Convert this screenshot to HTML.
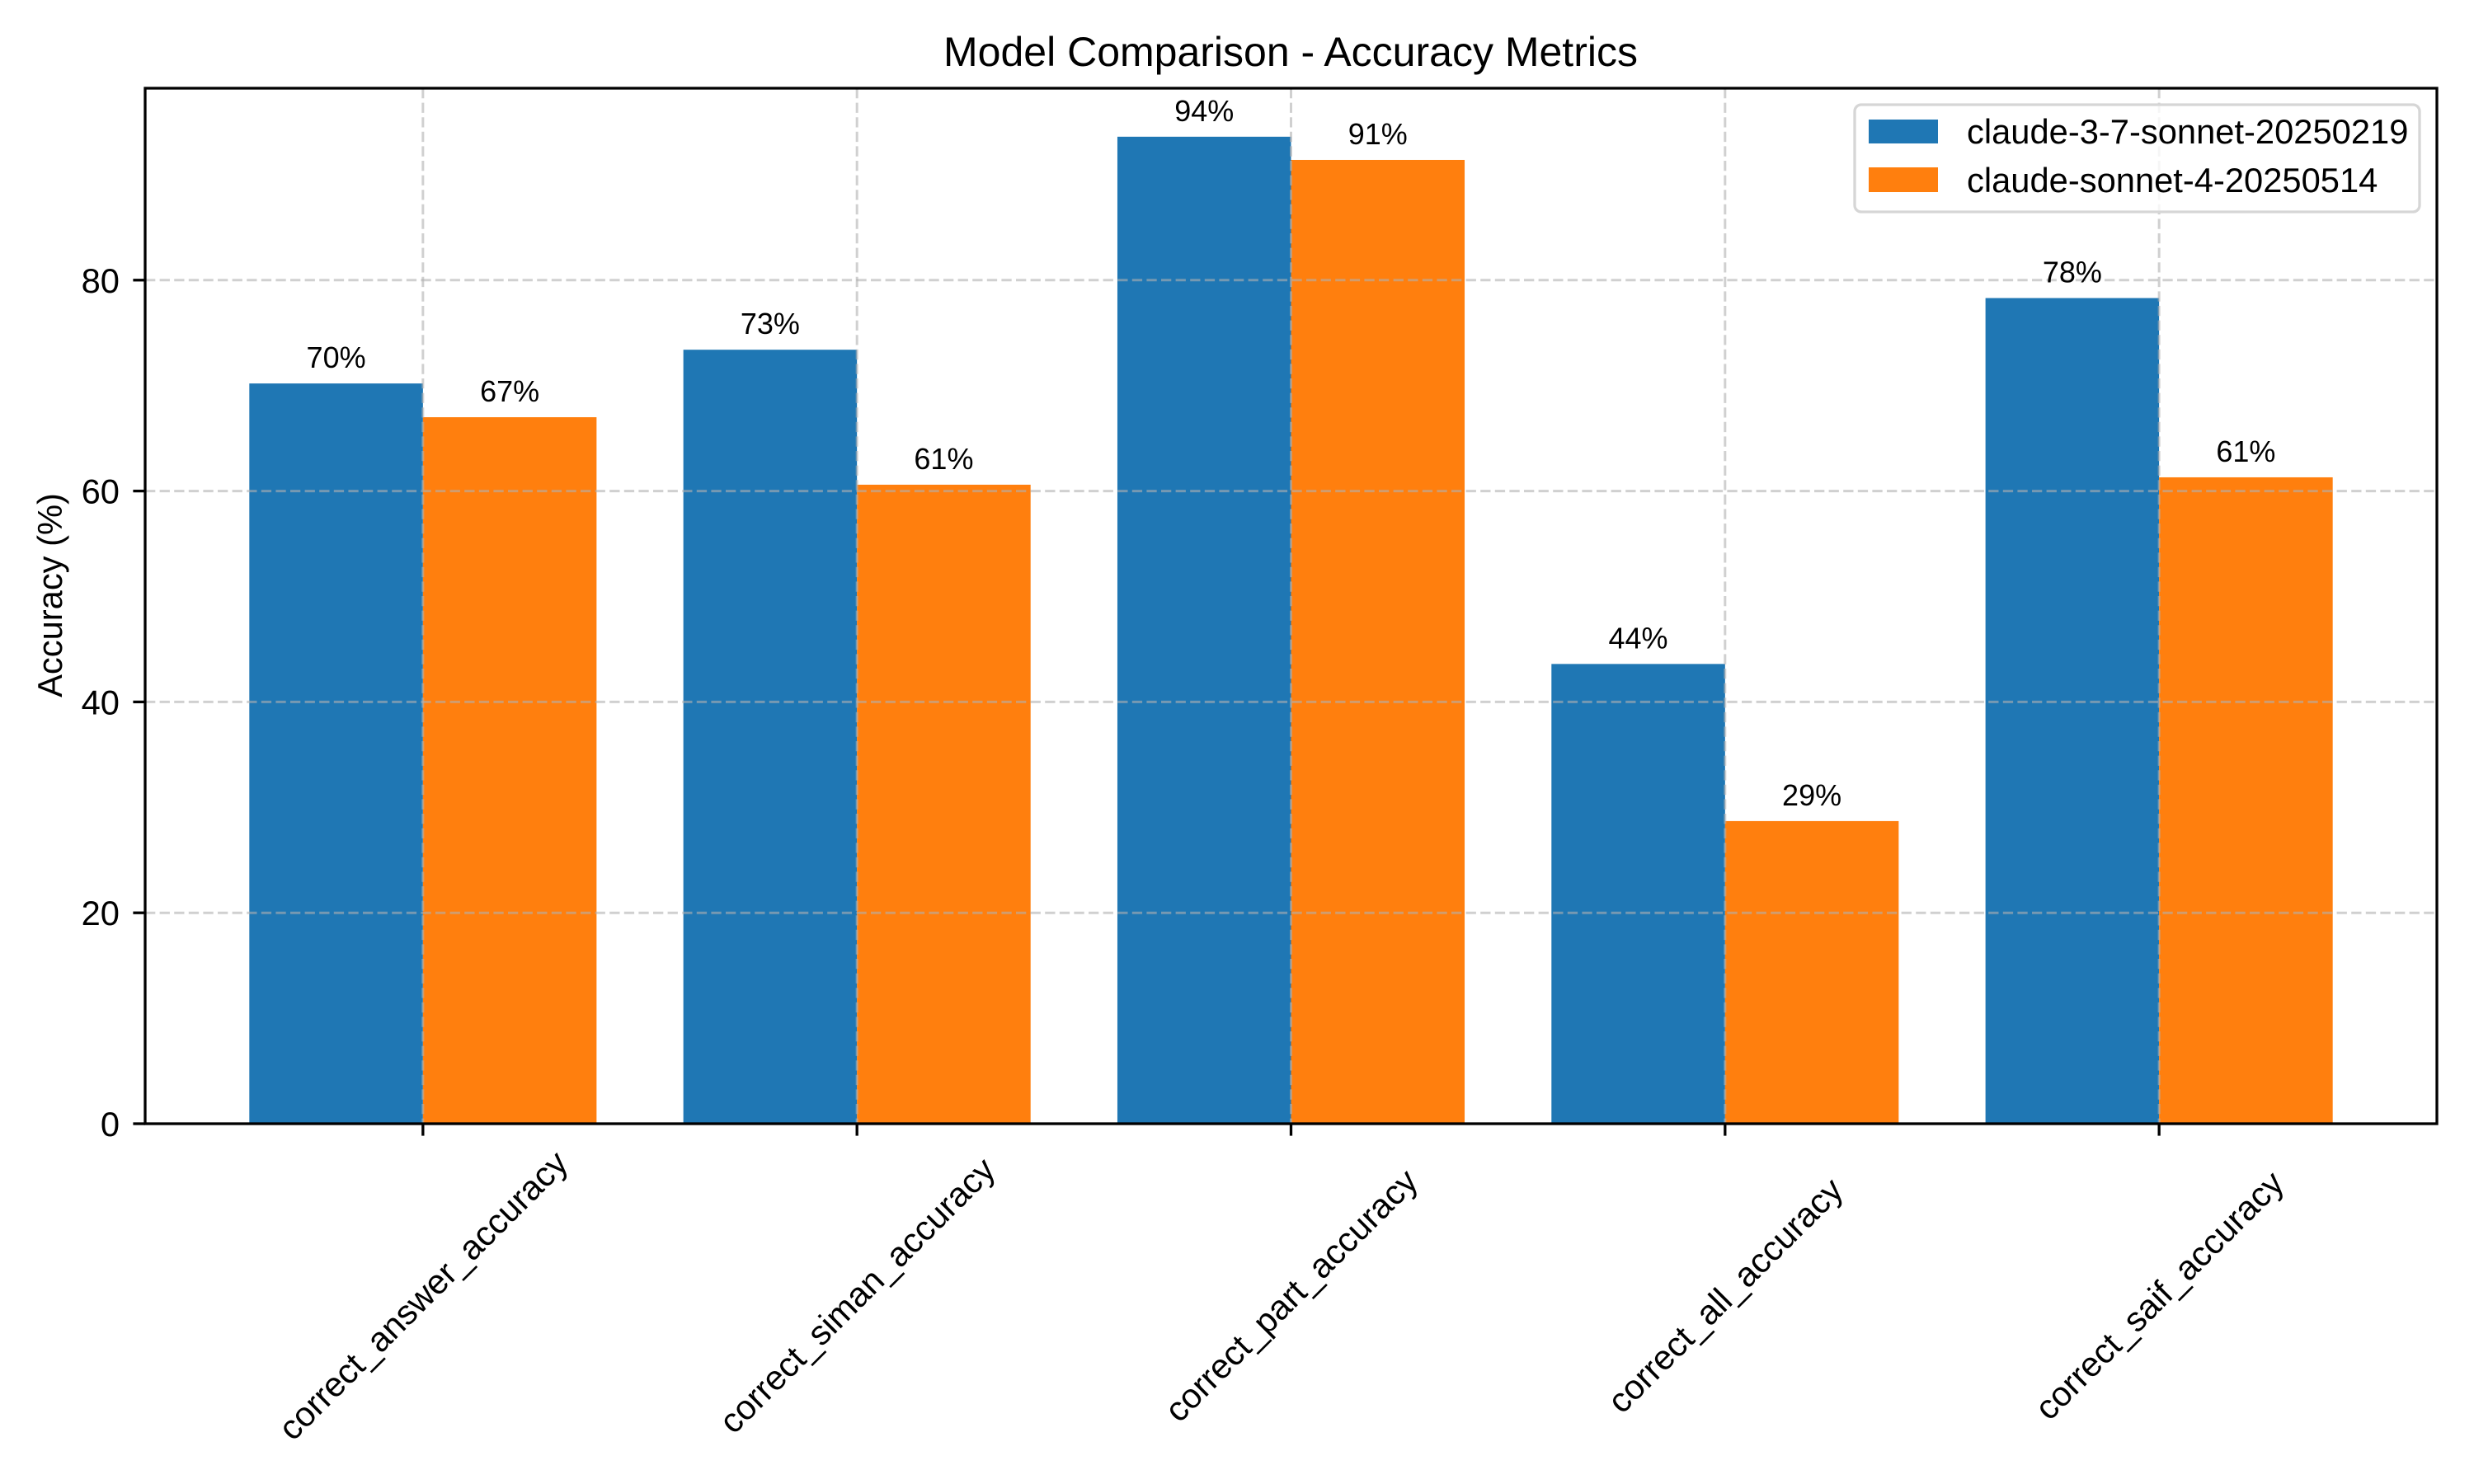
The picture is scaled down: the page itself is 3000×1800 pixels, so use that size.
<!DOCTYPE html>
<html><head><meta charset="utf-8"><style>
html,body{margin:0;padding:0;background:#fff;}
svg{display:block;font-family:"Liberation Sans",Arial,sans-serif;}
</style></head><body>
<svg id="chart" width="3000" height="1800" viewBox="0 0 3000 1800">
<rect x="0" y="0" width="3000" height="1800" fill="#fff"/>
<text x="1565" y="80" font-size="50" text-anchor="middle">Model Comparison - Accuracy Metrics</text>
<text transform="translate(75,722) rotate(-90)" font-size="41.7" text-anchor="middle">Accuracy (%)</text>
<g id="bars"></g>
<g id="grid"></g>
<g id="labels"></g>
<g id="axes"></g>
<g>
<rect x="2249" y="127" width="685" height="130" rx="8" fill="#fff" fill-opacity="0.8" stroke="#d6d6d6" stroke-width="3.3"/>
<rect x="2266" y="145" width="84" height="29" fill="#1f77b4"/>
<text x="2385" y="174" font-size="41.7">claude-3-7-sonnet-20250219</text>
<rect x="2266" y="203" width="84" height="30" fill="#ff7f0e"/>
<text x="2385" y="233" font-size="41.7">claude-sonnet-4-20250514</text>
</g>
</svg>
<script>
const categories = ["correct_answer_accuracy","correct_siman_accuracy","correct_part_accuracy","correct_all_accuracy","correct_saif_accuracy"];
const seriesA = [70.2, 73.4, 93.6, 43.6, 78.3];
const seriesB = [67.0, 60.6, 91.4, 28.7, 61.3];
const yTicks = [0, 20, 40, 60, 80];
const seriesNames = ["sonnet-3-7", "sonnet-4"];

const NS = "http://www.w3.org/2000/svg";
const L = 176, R = 2955, T = 107, B = 1363;
const xMin = -0.64, xMax = 4.64, yMin = 0, yMax = 98.2;
const xs = v => L + (v - xMin) / (xMax - xMin) * (R - L);
const ys = v => B - (v - yMin) / (yMax - yMin) * (B - T);
const bw = 0.4;
function mk(tag, attrs, parent) {
  const e = document.createElementNS(NS, tag);
  for (const k in attrs) e.setAttribute(k, attrs[k]);
  parent.appendChild(e);
  return e;
}
const gBars = document.getElementById('bars');
const gGrid = document.getElementById('grid');
const gLab = document.getElementById('labels');
const gAx = document.getElementById('axes');
const colors = ["#1f77b4", "#ff7f0e"];
[seriesA, seriesB].forEach((ser, s) => {
  ser.forEach((v, i) => {
    const x0 = xs(i - bw + s * bw), x1 = xs(i + s * bw);
    const r = mk('rect', {x: x0, y: ys(v), width: x1 - x0, height: ys(0) - ys(v), fill: colors[s]}, gBars);
    
    
    const t = mk('text', {x: (x0 + x1) / 2, y: ys(v) - 19, 'font-size': 36, 'text-anchor': 'middle'}, gLab);
    t.textContent = Math.round(v) + '%';
    
    
  });
});
const gridStyle = {stroke: '#b0b0b0', 'stroke-opacity': 0.6, 'stroke-width': 3, 'stroke-dasharray': '12.3,5.3'};
yTicks.forEach(v => {
  const y = ys(v);
  const gl = mk('line', Object.assign({x1: L, x2: R, y1: y, y2: y}, gridStyle), gGrid);
  
  
  const tk = mk('line', {x1: L - 14.6, x2: L, y1: y, y2: y, stroke: '#000', 'stroke-width': 3.3}, gAx);
  
  
  const tl = mk('text', {x: L - 31, y: y + 15, 'font-size': 41.7, 'text-anchor': 'end'}, gAx);
  tl.textContent = v;
  
  
});
categories.forEach((c, i) => {
  const x = xs(i);
  const gl = mk('line', Object.assign({x1: x, x2: x, y1: T, y2: B}, gridStyle), gGrid);
  
  
  const tk = mk('line', {x1: x, x2: x, y1: B, y2: B + 14.6, stroke: '#000', 'stroke-width': 3.3}, gAx);
  
  
  const tl = mk('text', {x: x, y: 1571, 'font-size': 41.7, 'text-anchor': 'middle', 'dominant-baseline': 'central', transform: 'rotate(-45 ' + x + ' 1571)'}, gAx);
  tl.textContent = c;
  
  
});
const frame = mk('rect', {x: L, y: T, width: R - L, height: B - T, fill: 'none', stroke: '#000', 'stroke-width': 3.3}, gAx);


</script>
</body></html>
